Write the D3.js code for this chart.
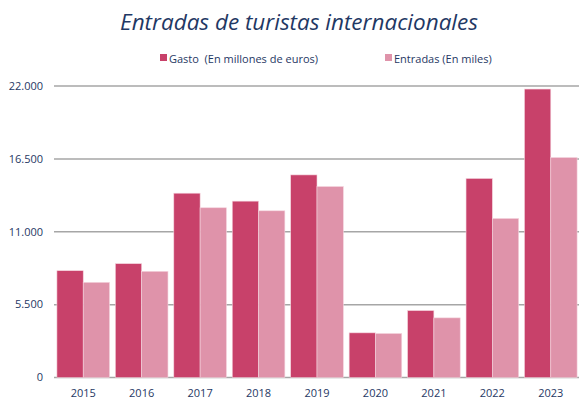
<!DOCTYPE html>
<html>
<head>
<meta charset="utf-8">
<script src="https://cdn.jsdelivr.net/npm/d3@7"></script>
<style>
  body { margin: 0; background: #fff; }
  text { font-family: "Open Sans", "Noto Sans", sans-serif; fill: #1F3864; white-space: pre; }
</style>
</head>
<body>
<div id="chart"></div>
<script>
var width = 579, height = 401;

var years = ["2015", "2016", "2017", "2018", "2019", "2020", "2021", "2022", "2023"];
var gasto = [8060, 8590, 13910, 13310, 15290, 3370, 5050, 15020, 21770];
var entradas = [7180, 8010, 12810, 12580, 14410, 3320, 4500, 12000, 16600];
var yTicks = [0, 5500, 11000, 16500, 22000];
var seriesNames = ["Gasto  (En millones de euros)", "Entradas (En miles)"];
var colors = ["#C8416A", "#DF93AA"];

var margin = {top: 86, right: 0, bottom: 23, left: 54};

var svg = d3.select("#chart")
  .append("svg")
    .attr("width", width)
    .attr("height", height);

var x = d3.scaleBand()
    .domain(years)
    .range([margin.left, width + 1])
    .paddingInner(0.1)
    .paddingOuter(0.05);

var x1 = d3.scaleBand()
    .domain([0, 1])
    .range([0, x.bandwidth()]);

var y = d3.scaleLinear()
    .domain([0, 22000])
    .range([height - margin.bottom - 0.5, margin.top]);

var fmt = function(d) { return d3.format(",")(d).replace(/,/g, "."); };

// gridlines
svg.append("g")
  .selectAll("line")
  .data(yTicks)
  .enter().append("line")
    .attr("x1", margin.left)
    .attr("x2", width)
    .attr("y1", function(d) { return y(d); })
    .attr("y2", function(d) { return y(d); })
    .attr("stroke", "#A6A6A6")
    .attr("stroke-width", 1.5);

// y labels
svg.append("g")
  .selectAll("text")
  .data(yTicks)
  .enter().append("text")
    .attr("x", 43)
    .attr("y", function(d) { return y(d); })
    .attr("dy", "0.35em")
    .attr("text-anchor", "end")
    .style("font-size", "11px")
    .text(fmt);

// bars
var rows = years.map(function(yr, i) { return {year: yr, vals: [gasto[i], entradas[i]]}; });

var groups = svg.append("g")
  .selectAll("g")
  .data(rows)
  .enter().append("g")
    .attr("transform", function(d) { return "translate(" + x(d.year) + ",0)"; });

groups.selectAll("rect")
  .data(function(d) { return d.vals; })
  .enter().append("rect")
    .attr("x", function(d, i) { return x1(i); })
    .attr("width", x1.bandwidth())
    .attr("y", function(d) { return y(d); })
    .attr("height", function(d) { return y(0) - y(d); })
    .attr("fill", function(d, i) { return colors[i]; })
    .attr("stroke", "#F4D3DD")
    .attr("stroke-width", 0.6);

// x labels
svg.append("g")
  .selectAll("text")
  .data(years)
  .enter().append("text")
    .attr("x", function(d) { return x(d) + x.bandwidth() / 2; })
    .attr("y", 397)
    .attr("text-anchor", "middle")
    .style("font-size", "11px")
    .text(function(d) { return d; });

// title
svg.append("text")
    .attr("x", 299)
    .attr("y", 30)
    .attr("text-anchor", "middle")
    .style("font-size", "22.5px")
    .style("font-style", "italic")
    .text("Entradas de turistas internacionales");

// legend
var legendX = [160, 385];
var legend = svg.append("g")
  .selectAll("g")
  .data(seriesNames)
  .enter().append("g")
    .attr("transform", function(d, i) { return "translate(" + legendX[i] + ",59)"; });

legend.append("rect")
    .attr("x", 0)
    .attr("y", -5)
    .attr("width", 7)
    .attr("height", 7)
    .attr("fill", function(d, i) { return colors[i]; });

legend.append("text")
    .attr("x", 9)
    .attr("y", 0)
    .attr("dy", "0.32em")
    .style("font-size", "11px")
    .text(function(d) { return d; });
</script>
</body>
</html>
